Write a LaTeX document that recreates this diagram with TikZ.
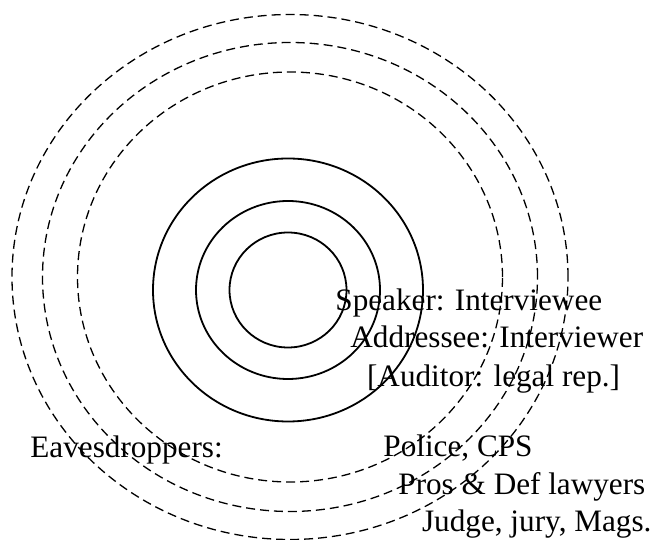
\documentclass[tikz,border=0pt]{standalone}
\usepackage{fontspec}
\setmainfont{Liberation Serif}
\usepackage{tikz}
\usetikzlibrary{positioning}

\begin{document}
\begin{tikzpicture}[x=0.5pt, y=0.5pt,
		ring/.style={draw, line width=0.9pt},
		outring/.style={draw, line width=0.65pt, dash pattern=on 4.5pt off 2.5pt},
		lbl/.style={inner sep=0pt, anchor=base west, font=\fontsize{15.6}{18}\selectfont}]
		%Bildbereich
		\useasboundingbox (0,0) rectangle (659,540);
		% innere Kreise
		\coordinate (core) at (288,250);
		\draw[ring] (core) ellipse [x radius=58.5, y radius=57.5];
		\draw[ring] (core) ellipse [x radius=92, y radius=89];
		\draw[ring] (core) ellipse [x radius=135, y radius=131.5];
		% aeussere Kreise (gestrichelt)
		\coordinate (rim) at (290,263);
		\draw[outring] (rim) ellipse [x radius=212.5, y radius=205];
		\draw[outring] (rim) ellipse [x radius=247.5, y radius=234.5];
		\draw[outring] (rim) ellipse [x radius=278, y radius=262.5];
		% Beschriftung
		\node[lbl] (speaker) at (335,229.3) {Speaker: Interviewee};
		\node[lbl] (addressee) at (350,192) {Addressee: Interviewer};
		\node[lbl] (auditor) at (366.7,153) {[Auditor: legal rep.]};
		\node[lbl] (eaves) at (30,82) {Eavesdroppers:};
		\node[lbl] (police) at (383,83.3) {Police, CPS};
		\node[lbl] (lawyers) at (398,45) {Pros \& Def lawyers};
		\node[lbl] (judge) at (421.7,8.3) {Judge, jury, Mags.};
	\end{tikzpicture}
\end{document}
